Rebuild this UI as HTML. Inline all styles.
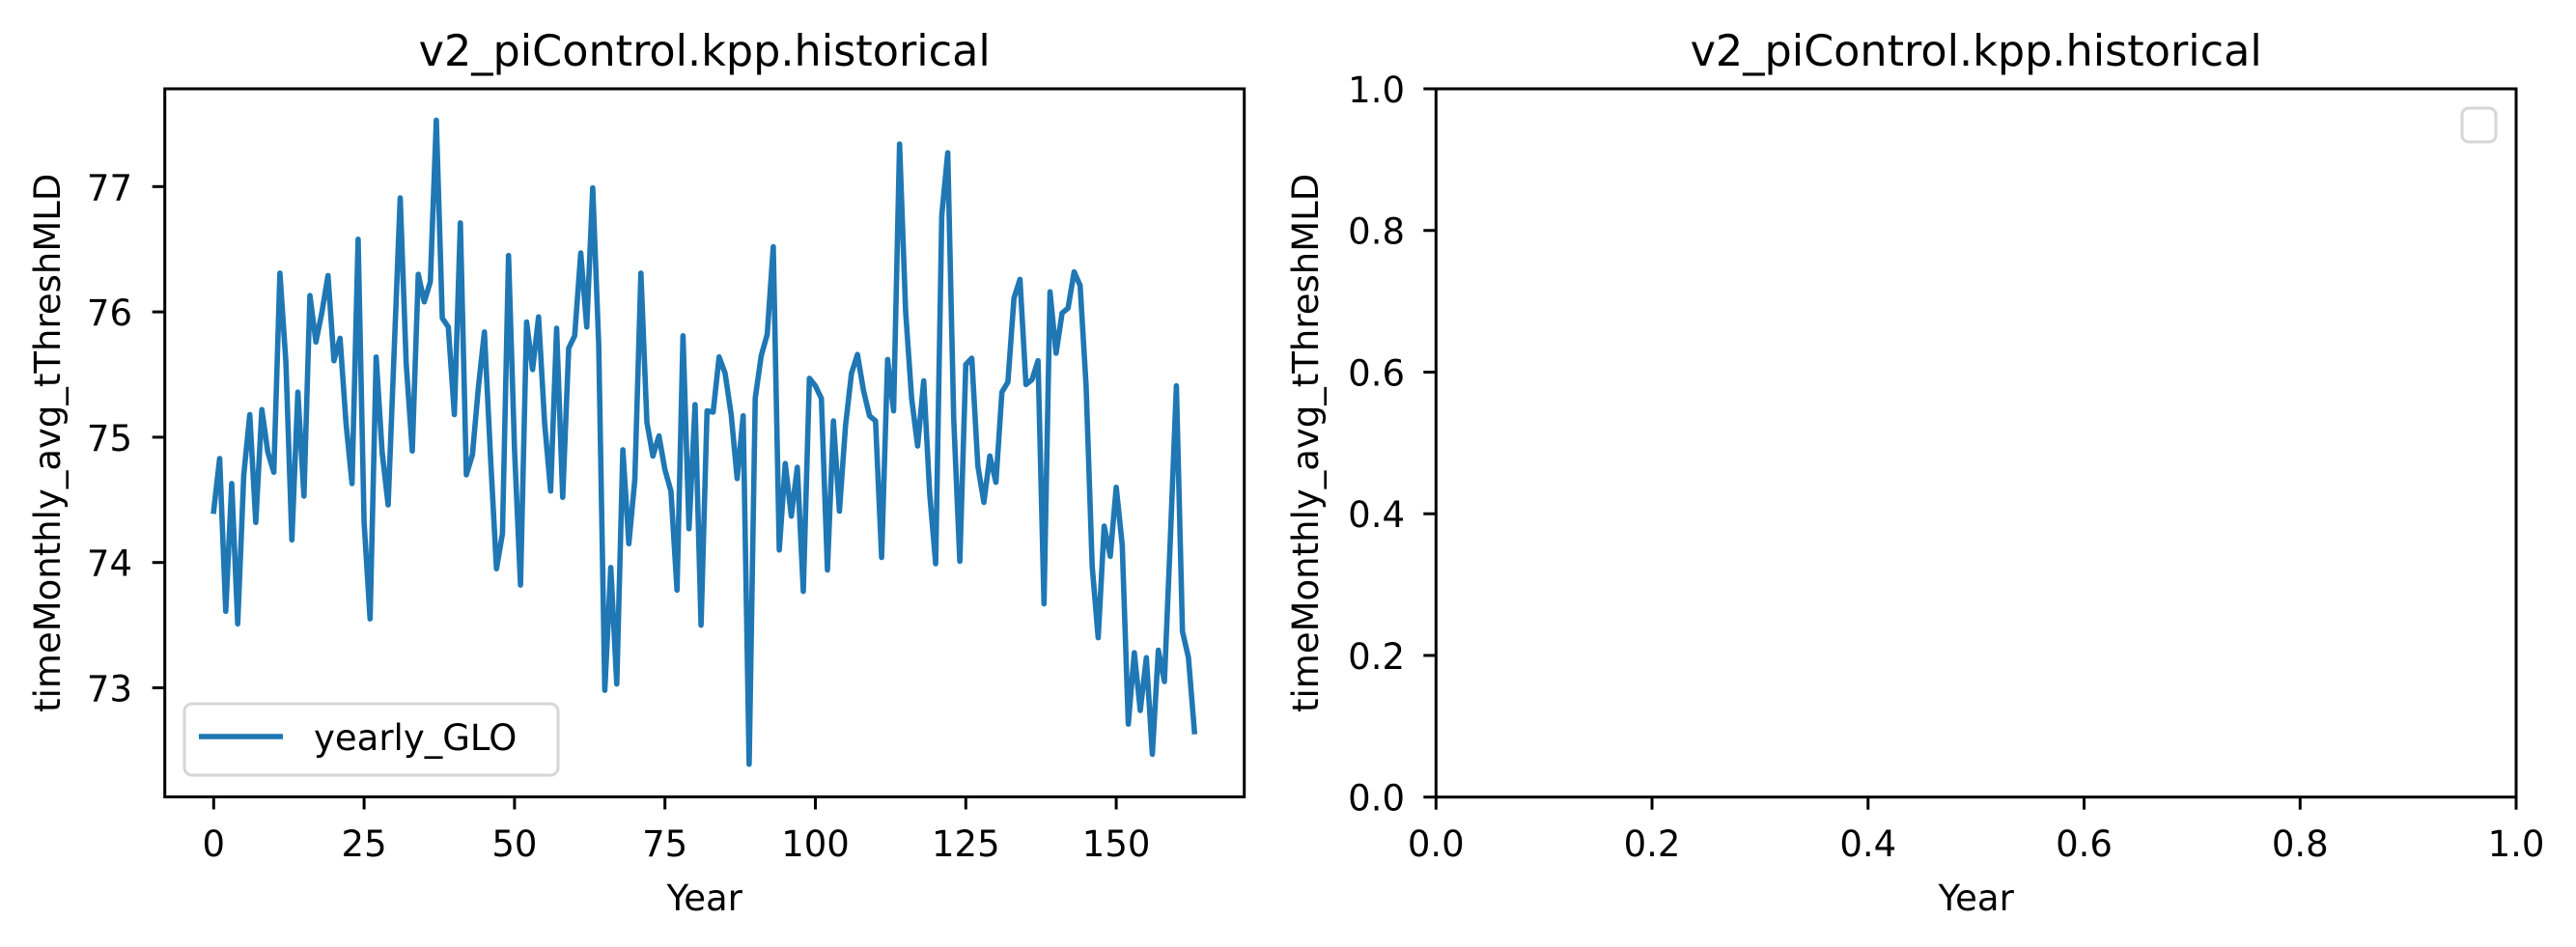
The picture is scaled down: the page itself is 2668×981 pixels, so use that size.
<!DOCTYPE html>
<html><head><meta charset="utf-8"><style>
html,body{margin:0;padding:0;background:#fff;}
svg{display:block;font-family:"DejaVu Sans","Liberation Sans",sans-serif;}
</style></head><body>
<svg id="fig" width="2668" height="981" viewBox="0 0 2668 981" xmlns="http://www.w3.org/2000/svg">
<rect width="2668" height="981" fill="#fff"/>
<g id="left"></g>
<g id="right"></g>
</svg>
<script>
const years = [];
const values = [74.41,74.83,73.61,74.63,73.51,74.70,75.18,74.32,75.22,74.88,74.72,76.31,75.60,74.18,75.36,74.53,76.13,75.76,76.00,76.29,
75.61,75.79,75.11,74.63,76.58,74.32,73.55,75.64,74.88,74.46,75.70,76.91,75.59,74.89,76.30,76.08,76.24,77.53,75.95,75.88,
75.18,76.71,74.70,74.86,75.40,75.84,74.85,73.95,74.23,76.45,74.90,73.82,75.92,75.54,75.96,75.11,74.57,75.87,74.52,75.71,
75.81,76.47,75.88,76.99,75.74,72.98,73.96,73.03,74.90,74.15,74.66,76.31,75.12,74.85,75.01,74.74,74.57,73.78,75.81,74.27,
75.26,73.50,75.21,75.20,75.64,75.51,75.18,74.67,75.17,72.39,75.31,75.65,75.82,76.52,74.10,74.79,74.37,74.76,73.77,75.47,
75.41,75.31,73.94,75.13,74.41,75.09,75.51,75.66,75.37,75.17,75.13,74.04,75.62,75.21,77.34,76.00,75.31,74.93,75.45,74.55,
73.99,76.77,77.27,75.14,74.01,75.58,75.63,74.77,74.48,74.85,74.64,75.36,75.44,76.11,76.26,75.42,75.46,75.61,73.67,76.16,
75.67,75.99,76.03,76.32,76.21,75.41,73.97,73.40,74.29,74.05,74.60,74.14,72.71,73.28,72.82,73.24,72.47,73.30,73.05,74.20,
75.41,73.45,73.24,72.65];
for (let i = 0; i < values.length; i++) years.push(i);
const xTicksLeft = [0,25,50,75,100,125,150];
const yTicksLeft = [73,74,75,76,77];
const ticksRight = [0.0,0.2,0.4,0.6,0.8,1.0];
const NS = "http://www.w3.org/2000/svg";

function mk(parent, tag, attrs, text) {
  const el = document.createElementNS(NS, tag);
  for (const k in attrs) el.setAttribute(k, attrs[k]);
  if (text !== undefined) el.textContent = text;
  parent.appendChild(el);
  return el;
}

// Left axes geometry
const L = {x0:170.7, x1:1288.7, y0:92, y1:825.5};
const xL = v => 221.3 + v * 6.232;
const yL = v => 193.3 + (77 - v) * 129.8;
const gl = document.getElementById('left');

let t = mk(gl, 'text', {x:(L.x0+L.x1)/2, y:68, 'font-size':44.5, 'text-anchor':'middle', fill:'#000'}, 'v2_piControl.kpp.historical');



let pts = years.map((yr, i) => xL(yr).toFixed(1) + ',' + yL(values[i]).toFixed(1)).join(' ');
let line = mk(gl, 'polyline', {points:pts, fill:'none', stroke:'#1f77b4', 'stroke-width':5.6, 'stroke-linejoin':'round', 'stroke-linecap':'square'});



let fr = mk(gl, 'rect', {x:L.x0, y:L.y0, width:L.x1-L.x0, height:L.y1-L.y0, fill:'none', stroke:'#000', 'stroke-width':3});



xTicksLeft.forEach(v => {
  const x = xL(v);
  const tk = mk(gl, 'line', {x1:x, x2:x, y1:L.y1, y2:L.y1+13, stroke:'#000', 'stroke-width':3});
  
  
  const lb = mk(gl, 'text', {x:x, y:887, 'font-size':37, 'text-anchor':'middle'}, String(v));
  
  
});
yTicksLeft.forEach(v => {
  const y = yL(v);
  const tk = mk(gl, 'line', {x1:L.x0-13, x2:L.x0, y1:y, y2:y, stroke:'#000', 'stroke-width':3});
  
  
  const lb = mk(gl, 'text', {x:137, y:y+14, 'font-size':37, 'text-anchor':'end'}, String(v));
  
  
});
let xl = mk(gl, 'text', {x:(L.x0+L.x1)/2, y:943, 'font-size':37, 'text-anchor':'middle'}, 'Year');


let yl = mk(gl, 'text', {x:0, y:0, 'font-size':37, 'text-anchor':'middle', transform:'translate(62,'+((L.y0+L.y1)/2)+') rotate(-90)'}, 'timeMonthly_avg_tThreshMLD');



let lg = mk(gl, 'g', {});


let lgb = mk(lg, 'rect', {x:191, y:729, width:387, height:74, rx:8, fill:'#fff', 'fill-opacity':0.8, stroke:'#d6d6d6', 'stroke-width':3});


let lgl = mk(lg, 'line', {x1:206, x2:293, y1:763, y2:763, stroke:'#1f77b4', 'stroke-width':5.6});


let lgt = mk(lg, 'text', {x:325, y:777, 'font-size':37}, 'yearly_GLO');



// Right axes
const R = {x0:1487.3, x1:2606, y0:92, y1:825.7};
const xR = v => R.x0 + v * (R.x1 - R.x0);
const yR = v => R.y1 - v * (R.y1 - R.y0);
const gr = document.getElementById('right');
let t2 = mk(gr, 'text', {x:(R.x0+R.x1)/2, y:68, 'font-size':44.5, 'text-anchor':'middle'}, 'v2_piControl.kpp.historical');


let fr2 = mk(gr, 'rect', {x:R.x0, y:R.y0, width:R.x1-R.x0, height:R.y1-R.y0, fill:'none', stroke:'#000', 'stroke-width':3});


ticksRight.forEach(v => {
  const x = xR(v), y = yR(v);
  const tx = mk(gr, 'line', {x1:x, x2:x, y1:R.y1, y2:R.y1+13, stroke:'#000', 'stroke-width':3});
  
  
  const lx = mk(gr, 'text', {x:x, y:887, 'font-size':37, 'text-anchor':'middle'}, v.toFixed(1));
  
  
  const ty = mk(gr, 'line', {x1:R.x0-13, x2:R.x0, y1:y, y2:y, stroke:'#000', 'stroke-width':3});
  
  
  const ly = mk(gr, 'text', {x:1455, y:y+14, 'font-size':37, 'text-anchor':'end'}, v.toFixed(1));
  
  
});
let xl2 = mk(gr, 'text', {x:(R.x0+R.x1)/2, y:943, 'font-size':37, 'text-anchor':'middle'}, 'Year');


let yl2 = mk(gr, 'text', {x:0, y:0, 'font-size':37, 'text-anchor':'middle', transform:'translate(1365,'+((R.y0+R.y1)/2)+') rotate(-90)'}, 'timeMonthly_avg_tThreshMLD');


let el = mk(gr, 'rect', {x:2550, y:112, width:35, height:35, rx:7, fill:'#fff', stroke:'#d6d6d6', 'stroke-width':3});


</script>
</body></html>
